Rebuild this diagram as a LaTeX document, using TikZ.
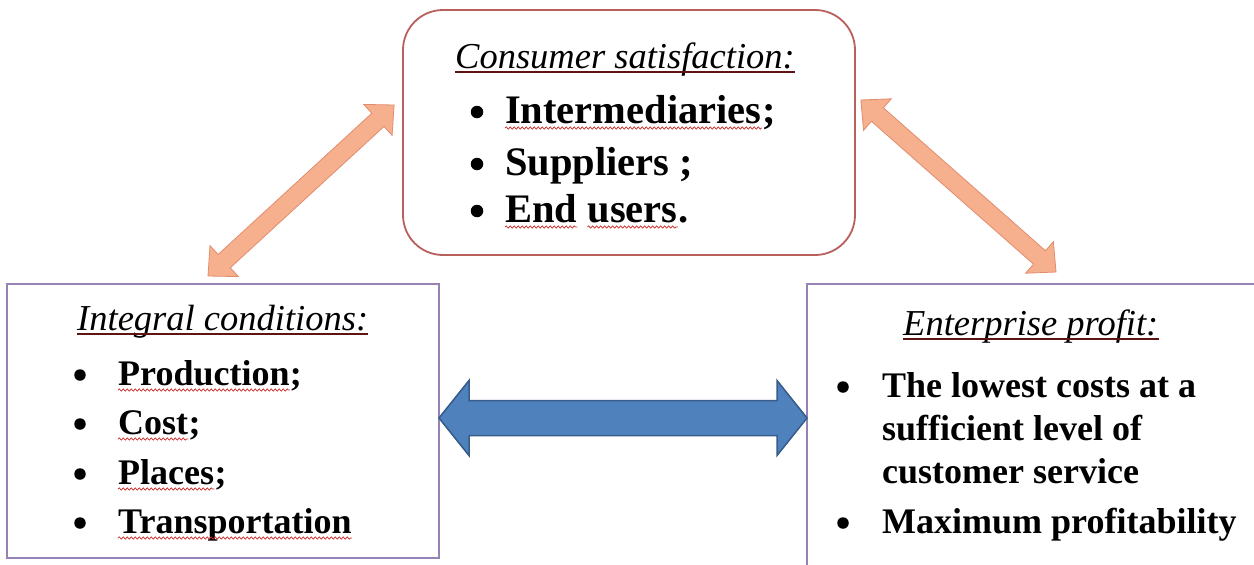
\documentclass[tikz,border=0pt]{standalone}
\usepackage{fontspec}
\setmainfont{Liberation Serif}
\usetikzlibrary{calc,decorations.pathmorphing}
\definecolor{topborder}{RGB}{185,95,92}
\definecolor{sideborder}{RGB}{150,130,180}
\definecolor{orfill}{RGB}{246,176,142}
\definecolor{ordraw}{RGB}{226,140,110}
\definecolor{blfill}{RGB}{79,129,189}
\definecolor{bldraw}{RGB}{56,93,138}
\definecolor{ulcol}{RGB}{95,20,20}
\definecolor{wavecol}{RGB}{205,40,40}
\newcommand\fatarrow[6]{%
  \path[#1] (#2) -- ($(#2)!#6!(#3)!#5!90:(#3)$) -- ($(#2)!#6!(#3)!#4!90:(#3)$)
    -- ($(#3)!#6!(#2)!#4!-90:(#2)$) -- ($(#3)!#6!(#2)!#5!-90:(#2)$) -- (#3)
    -- ($(#3)!#6!(#2)!#5!90:(#2)$) -- ($(#3)!#6!(#2)!#4!90:(#2)$)
    -- ($(#2)!#6!(#3)!#4!-90:(#3)$) -- ($(#2)!#6!(#3)!#5!-90:(#3)$) -- cycle;}
\newcommand\wave[1]{\draw[wavy] ([yshift=-5pt]#1.base west) -- ([yshift=-5pt]#1.base east);}
\tikzset{
  topbox/.style={draw=topborder, line width=1.8pt, rounded corners=40pt, fill=white, inner sep=0},
  sidebox/.style={draw=sideborder, line width=2pt, fill=white, inner sep=0},
  title/.style={anchor=base west, inner sep=0, font=\fontsize{36.5}{40}\selectfont\itshape},
  item/.style={anchor=base west, inner sep=0, font=\fontsize{36}{40}\selectfont\bfseries},
  bigitem/.style={anchor=base west, inner sep=0, font=\fontsize{40.5}{44}\selectfont\bfseries},
  bul/.style={circle, fill=black, inner sep=0, minimum size=11.5pt},
  bigbul/.style={circle, fill=black, inner sep=0, minimum size=12.5pt},
  uline/.style={draw=ulcol, line width=2.2pt},
  wavy/.style={draw=wavecol, line width=0.7pt, decorate, decoration={snake, segment length=4pt, amplitude=1.1pt}},
  orarrow/.style={fill=orfill, draw=ordraw, line width=0.8pt},
  blarrow/.style={fill=blfill, draw=bldraw, line width=1.5pt}
}
\begin{document}
\begin{tikzpicture}[x=1pt, y=-1pt]
\path[use as bounding box] (0,0) rectangle (1254,565);
\clip (0,0) rectangle (1254,565);
\fill[white] (0,0) rectangle (1254,565);

% boxes
\node[topbox, minimum width=452pt, minimum height=245pt] (T) at (629,132.5) {};
\node[sidebox, minimum width=432pt, minimum height=274pt] (L) at (223,421) {};
\node[sidebox, minimum width=463pt, minimum height=316pt] (R) at (1038.5,442) {};

% top box text
\node[title] (tt) at (455,68) {Consumer satisfaction:};
\draw[uline] ([yshift=-4pt]tt.base west) -- ([yshift=-4pt]tt.base east);
\node[bigbul] (tb1) at (477,112) {};
\node[bigitem] (ti1) at (505,123) {Intermediaries};
\node[bigitem] (ti1p) at (ti1.base east) {;};
\node[bigbul] (tb2) at (477,164) {};
\node[bigitem] (ti2) at (505,175) {Suppliers ;};
\node[bigbul] (tb3) at (477,211) {};
\node[bigitem] (ti3) at (505,222) {End};
\node[bigitem] (ti3b) at ([xshift=10pt]ti3.base east) {users};
\node[bigitem] (ti3p) at (ti3b.base east) {.};
\wave{ti1}
\wave{ti3}
\wave{ti3b}

% left box text
\node[title] (lt) at (77,330) {Integral conditions:};
\draw[uline] ([yshift=-4pt]lt.base west) -- ([yshift=-4pt]lt.base east);
\node[bul] (lb1) at (80,375) {};
\node[item] (li1) at (118,385) {Production};
\node[item] (li1p) at (li1.base east) {;};
\node[bul] (lb2) at (80,424) {};
\node[item] (li2) at (118,434) {Cost};
\node[item] (li2p) at (li2.base east) {;};
\node[bul] (lb3) at (80,474) {};
\node[item] (li3) at (118,484) {Places};
\node[item] (li3p) at (li3.base east) {;};
\node[bul] (lb4) at (80,523) {};
\node[item] (li4) at (118,533) {Transportation};
\wave{li1}
\wave{li2}
\wave{li3}
\wave{li4}

% right box text
\node[title] (rt) at (903,335) {Enterprise profit:};
\draw[uline] ([yshift=-4pt]rt.base west) -- ([yshift=-4pt]rt.base east);
\node[bul] (rb1) at (843,387) {};
\node[item] (ri1) at (882,397) {The lowest costs at a};
\node[item] (ri1b) at (882,440) {sufficient level of};
\node[item] (ri1c) at (882,483) {customer service};
\node[bul] (rb2) at (843,523) {};
\node[item] (ri2) at (882,533) {Maximum profitability};

% arrow ends
\coordinate (oa1) at ([xshift=-15pt,yshift=7pt]L.north);
\coordinate (oa2) at ([xshift=-8pt,yshift=27.5pt]T.west);
\coordinate (ob1) at ([xshift=5pt,yshift=32.5pt]T.east);
\coordinate (ob2) at ([xshift=250pt,yshift=11pt]R.north west);
\coordinate (bl) at ([xshift=-1pt,yshift=3pt]L.east);
\coordinate (br0) at (R.west |- bl);
\coordinate (br) at ([xshift=1pt]br0);

% arrows
\fatarrow{orarrow}{oa1}{oa2}{9pt}{21pt}{22pt}
\fatarrow{orarrow}{ob1}{ob2}{9pt}{21pt}{22pt}
\fatarrow{blarrow}{bl}{br}{17.5pt}{37.5pt}{30pt}
\end{tikzpicture}
\end{document}
